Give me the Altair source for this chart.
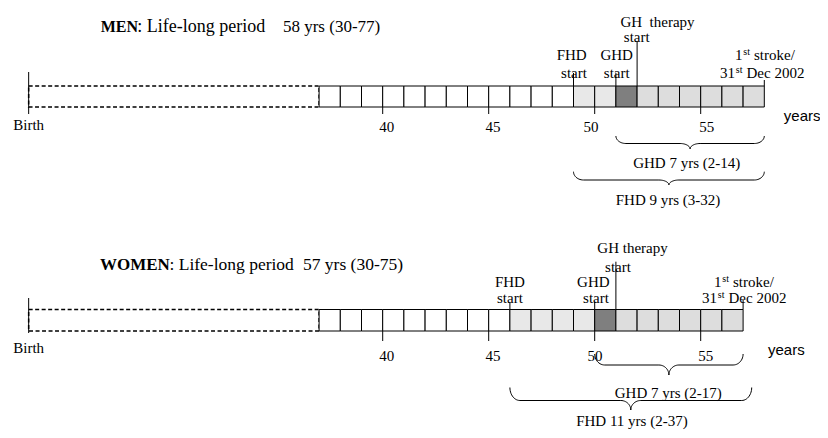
import altair as alt
import numpy as np
import pandas as pd

# ---------------- data ----------------
groups = ["MEN", "WOMEN"]
lifelong_yrs = [58, 57]
lifelong_range = ["30-77", "30-75"]
birth_age = [23.3, 23.3]          # diagram position of the "Birth" marker
grid_start_age = [37, 37]
fhd_start_age = [49, 46]
ghd_start_age = [51, 50]
gh_therapy_age = [52, 51]
end_age = [58, 57]
tick_ages = [40, 45, 50, 55]
ghd_labels = ["GHD 7 yrs (2-14)", "GHD 7 yrs (2-17)"]
fhd_labels = ["FHD 9 yrs (3-32)", "FHD 11 yrs (2-37)"]

# ---------------- layout ----------------
W, H = 812, 422
PPY = 21.2                       # pixels per year
X0 = 40 - (382.7 - 8) / PPY
X1 = X0 + W / PPY
SERIF = "Liberation Serif"
SANS = "Liberation Sans"
C_WHITE, C_FHD, C_GHD, C_GH = "#ffffff", "#e8e8e8", "#7f7f7f", "#dddddd"

L = [
    dict(title_y=27, title_sizes=[16, 18, 17], title_dx=[72, 108.6, 254.3],
         box=(86, 107), birth=(72, 114), birth_lab=125,
         tick_bot=114, tick_lab=127, tick_dx=[4, 4.3, -3.7, 6],
         years=(19.5, 116),
         tops=dict(fhd=73, ghd=73, gh=41, end=80),
         gh_txt=("GH\u00a0 therapy", 20.4, 21.7, -0.4, 36.7),
         fhd_txt=(-1.8, 55, 0.5, 73), ghd_txt=(0.8, 55, 0.8, 73),
         stroke1=(-21.8, 55), stroke2=(-29.3, 73),
         br_ghd=(136, 143.5, 149, 0), br_fhd=(171.7, 180, 185, 0),
         lab_ghd=(-3.4, 163.3), lab_fhd=(-0.9, 200)),
    dict(title_y=265, title_sizes=[17, 17.5, 17.5], title_dx=[71.3, 140.8, 274.3],
         box=(309.5, 331), birth=(298, 333), birth_lab=348,
         tick_bot=341, tick_lab=356, tick_dx=[4, 4.3, 0.3, 5],
         years=(24.9, 350),
         tops=dict(fhd=302.7, ghd=301.7, gh=261.7, end=300),
         gh_txt=("GH therapy", 16.6, 248.3, 2.1, 266.7),
         fhd_txt=(0, 281.7, 0, 298.3), ghd_txt=(-1.4, 281.7, 1.3, 298.3),
         stroke1=(-21.6, 282.3), stroke2=(-26.1, 297.8),
         br_ghd=(354, 365, 375, 0), br_fhd=(387.5, 400.5, 410, 8.6),
         lab_ghd=(-0.6, 393.3), lab_fhd=(5.4, 421)),
]

grid, dashed, rules, texts, braces = [], [], [], [], []


def T(anchor, dx, y, text, style="c", size=15):
    texts.append(dict(x=anchor + dx / PPY, y=y, text=text, style=style, size=size))


def brace(bid, x0, x1, y_top, y_body, y_cusp, r_px=10, n=14):
    rx = r_px / PPY
    xm = (x0 + x1) / 2
    t = np.linspace(0, np.pi / 2, n)
    left = list(zip(x0 + rx * (1 - np.cos(t)), y_top + (y_body - y_top) * np.sin(t)))
    left += list(zip(xm - rx + rx * np.sin(t), y_body + (y_cusp - y_body) * (1 - np.cos(t))))
    right = [(2 * xm - x, y) for (x, y) in reversed(left)]
    for i, (x, y) in enumerate(left + right):
        braces.append(dict(bid=bid, i=i, x=x, y=y))


for g in range(2):
    lay = L[g]
    top, bot = lay["box"]
    b = birth_age[g]
    # year boxes
    for a in range(grid_start_age[g], end_age[g]):
        if a < fhd_start_age[g]:
            c = C_WHITE
        elif a < ghd_start_age[g]:
            c = C_FHD
        elif a < gh_therapy_age[g]:
            c = C_GHD
        else:
            c = C_GH
        grid.append(dict(x=a, x2=a + 1, y=top, y2=bot, fill=c))
    dashed.append(dict(x=b, x2=grid_start_age[g], y=top, y2=bot))
    # birth line, ticks, event lines
    rules.append(dict(x=b, y=lay["birth"][0], y2=lay["birth"][1]))
    for tk in tick_ages:
        rules.append(dict(x=tk, y=bot, y2=lay["tick_bot"]))
    tp = lay["tops"]
    rules.append(dict(x=fhd_start_age[g], y=tp["fhd"], y2=top))
    rules.append(dict(x=ghd_start_age[g], y=tp["ghd"], y2=top))
    rules.append(dict(x=gh_therapy_age[g], y=tp["gh"], y2=top))
    rules.append(dict(x=end_age[g], y=tp["end"], y2=top))
    # titles
    ty, tsz, tdx = lay["title_y"], lay["title_sizes"], lay["title_dx"]
    T(b, tdx[0], ty, groups[g], "tb", tsz[0])
    T(b, tdx[1], ty, ": Life-long period", "l", tsz[1])
    T(b, tdx[2], ty, f"{lifelong_yrs[g]} yrs ({lifelong_range[g]})", "l", tsz[2])
    T(b, 0, lay["birth_lab"], "Birth")
    for tk, dx in zip(tick_ages, lay["tick_dx"]):
        T(tk, dx, lay["tick_lab"], str(tk))
    T(end_age[g], lay["years"][0], lay["years"][1], "years", "sans", 15)
    gt = lay["gh_txt"]
    T(gh_therapy_age[g], gt[1], gt[2], gt[0])
    T(gh_therapy_age[g], gt[3], gt[4], "start")
    ft = lay["fhd_txt"]
    T(fhd_start_age[g], ft[0], ft[1], "FHD")
    T(fhd_start_age[g], ft[2], ft[3], "start")
    gd = lay["ghd_txt"]
    T(ghd_start_age[g], gd[0], gd[1], "GHD")
    T(ghd_start_age[g], gd[2], gd[3], "start")
    # end-point labels with superscripts
    e = end_age[g]
    s1dx, s1y = lay["stroke1"]
    T(e, s1dx, s1y, "1", "r")
    T(e, s1dx + 0.8, s1y - 3, "st", "l", 10)
    T(e, s1dx + 11.5, s1y, "stroke/", "l")
    s2dx, s2y = lay["stroke2"]
    T(e, s2dx, s2y, "31", "r")
    T(e, s2dx + 0.8, s2y - 3, "st", "l", 10)
    T(e, s2dx + 11.5, s2y, "Dec 2002", "l")
    # braces and their labels
    yt, yb, yc, ext = lay["br_ghd"]
    brace(f"g{g}", ghd_start_age[g], e + ext / PPY, yt, yb, yc)
    yt, yb, yc, ext = lay["br_fhd"]
    brace(f"f{g}", fhd_start_age[g], e + ext / PPY, yt, yb, yc)
    dx, y = lay["lab_ghd"]
    T((ghd_start_age[g] + e) / 2, dx, y, ghd_labels[g])
    dx, y = lay["lab_fhd"]
    T((fhd_start_age[g] + e) / 2, dx, y, fhd_labels[g])

grid_df = pd.DataFrame(grid)
dash_df = pd.DataFrame(dashed)
rule_df = pd.DataFrame(rules)
text_df = pd.DataFrame(texts)
brace_df = pd.DataFrame(braces)

xs = alt.Scale(domain=[X0, X1], nice=False, zero=False)
ys = alt.Scale(domain=[8, 8 + H], reverse=True, nice=False, zero=False)
X = alt.X("x:Q", scale=xs, axis=None)
Y = alt.Y("y:Q", scale=ys, axis=None)

boxes = alt.Chart(grid_df).mark_rect(stroke="black", strokeWidth=1).encode(
    x=X, x2="x2:Q", y=Y, y2="y2:Q", color=alt.Color("fill:N", scale=None)
)
dash_box = alt.Chart(dash_df).mark_rect(
    fillOpacity=0, stroke="black", strokeWidth=1.5, strokeDash=[4, 2.5]
).encode(x=X, x2="x2:Q", y=Y, y2="y2:Q")
rule_layer = alt.Chart(rule_df).mark_rule(color="black", strokeWidth=1).encode(
    x=X, y=Y, y2="y2:Q"
)
brace_layer = alt.Chart(brace_df).mark_line(color="black", strokeWidth=1).encode(
    x=X, y=Y, detail="bid:N", order="i:Q"
)


def text_layer(style, **kw):
    return alt.Chart(text_df[text_df["style"] == style]).mark_text(
        baseline="middle", color="black", **kw
    ).encode(x=X, y=Y, text="text:N", size=alt.Size("size:Q", scale=None))


layers = [
    dash_box, boxes, rule_layer, brace_layer,
    text_layer("c", align="center", font=SERIF),
    text_layer("l", align="left", font=SERIF),
    text_layer("r", align="right", font=SERIF),
    text_layer("tb", align="left", font=SERIF, fontWeight="bold"),
    text_layer("sans", align="left", font=SANS),
]

chart = alt.layer(*layers).properties(
    width=W, height=H, padding=0, autosize=alt.AutoSizeParams(type="none")
).configure_view(stroke=None)
chart.save("out.html", embed_options={"renderer": "svg", "actions": False})
